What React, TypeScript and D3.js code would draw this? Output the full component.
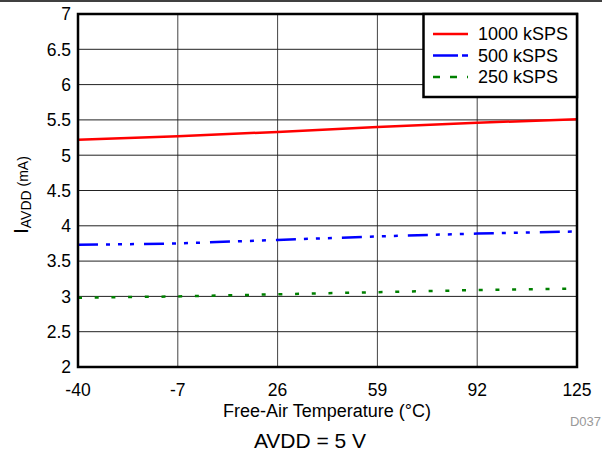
import React from "react";
import * as d3 from "d3";

const temps = [-40, -7, 26, 59, 92, 125];
const s1000 = [5.22, 5.27, 5.33, 5.40, 5.46, 5.51];
const s500 = [3.73, 3.75, 3.80, 3.85, 3.89, 3.92];
const s250 = [2.98, 3.0, 3.03, 3.06, 3.09, 3.11];
const yTicks = [2, 2.5, 3, 3.5, 4, 4.5, 5, 5.5, 6, 6.5, 7];
const seriesNames = ["1000 kSPS", "500 kSPS", "250 kSPS"];
const seriesColors = ["#ff0000", "#0000ff", "#008000"];
const seriesDash = ["none", "20,8,4,8,4,8,4,10", "4,12.7"];
const legendDash = ["none", "25,4,6,4", "7,10"];

export default function App() {
  const L = 78, R = 577, T = 14, B = 367;
  const x = d3.scaleLinear().domain([-40, 125]).range([L, R]);
  const y = d3.scaleLinear().domain([2, 7]).range([B, T]);
  const line = d3.line<number>().x((_, i) => x(temps[i])).y((d) => y(d));
  const all = [s1000, s500, s250];
  const font = "'Liberation Sans', Arial, sans-serif";
  const legendY = [34, 55.5, 77];
  return (
    <svg width={602} height={455} style={{ position: "absolute", left: 0, top: 0, background: "#fff" }} fontFamily={font}>
      <line x1={0} x2={602} y1={1} y2={1} stroke="#000" strokeWidth={1.5} />
      {temps.slice(1, -1).map((t) => (
        <line key={"v" + t} x1={x(t)} x2={x(t)} y1={T} y2={B} stroke="#444" strokeWidth={1} />
      ))}
      {yTicks.slice(1, -1).map((v) => (
        <line key={"h" + v} x1={L} x2={R} y1={y(v)} y2={y(v)} stroke="#222" strokeWidth={1} />
      ))}
      {all.map((s, i) => (
        <path key={i} d={line(s) || ""} fill="none" stroke={seriesColors[i]} strokeWidth={2.5} strokeDasharray={seriesDash[i]} />
      ))}
      <rect x={L} y={T} width={R - L} height={B - T} fill="none" stroke="#000" strokeWidth={2.5} />
      {yTicks.map((v) => (
        <text key={"yt" + v} x={71} y={y(v)} dy="0.36em" textAnchor="end" fontSize={17.5}>{v}</text>
      ))}
      {temps.map((t) => (
        <text key={"xt" + t} x={x(t)} y={396} textAnchor="middle" fontSize={17.5}>{t}</text>
      ))}
      <text x={327} y={417} textAnchor="middle" fontSize={18}>Free-Air Temperature (°C)</text>
      <text x={310} y={448} textAnchor="middle" fontSize={21}>AVDD = 5 V</text>
      <text x={601} y={426} textAnchor="end" fontSize={13} fill="#999">D037</text>
      <text transform="translate(28,195) rotate(-90)" textAnchor="middle" fontSize={20}>
        I<tspan fontSize={14} dy={3}>AVDD</tspan><tspan fontSize={14} dy={-3}> (mA)</tspan>
      </text>
      <rect x={423.5} y={T} width={R - 423.5} height={83} fill="#fff" stroke="#000" strokeWidth={2.5} />
      {seriesNames.map((n, i) => (
        <g key={n}>
          <line x1={433} x2={468} y1={legendY[i]} y2={legendY[i]} stroke={seriesColors[i]} strokeWidth={2.5}
            strokeDasharray={legendDash[i]} />
          <text x={478} y={legendY[i]} dy="0.36em" fontSize={18}>{n}</text>
        </g>
      ))}
    </svg>
  );
}
